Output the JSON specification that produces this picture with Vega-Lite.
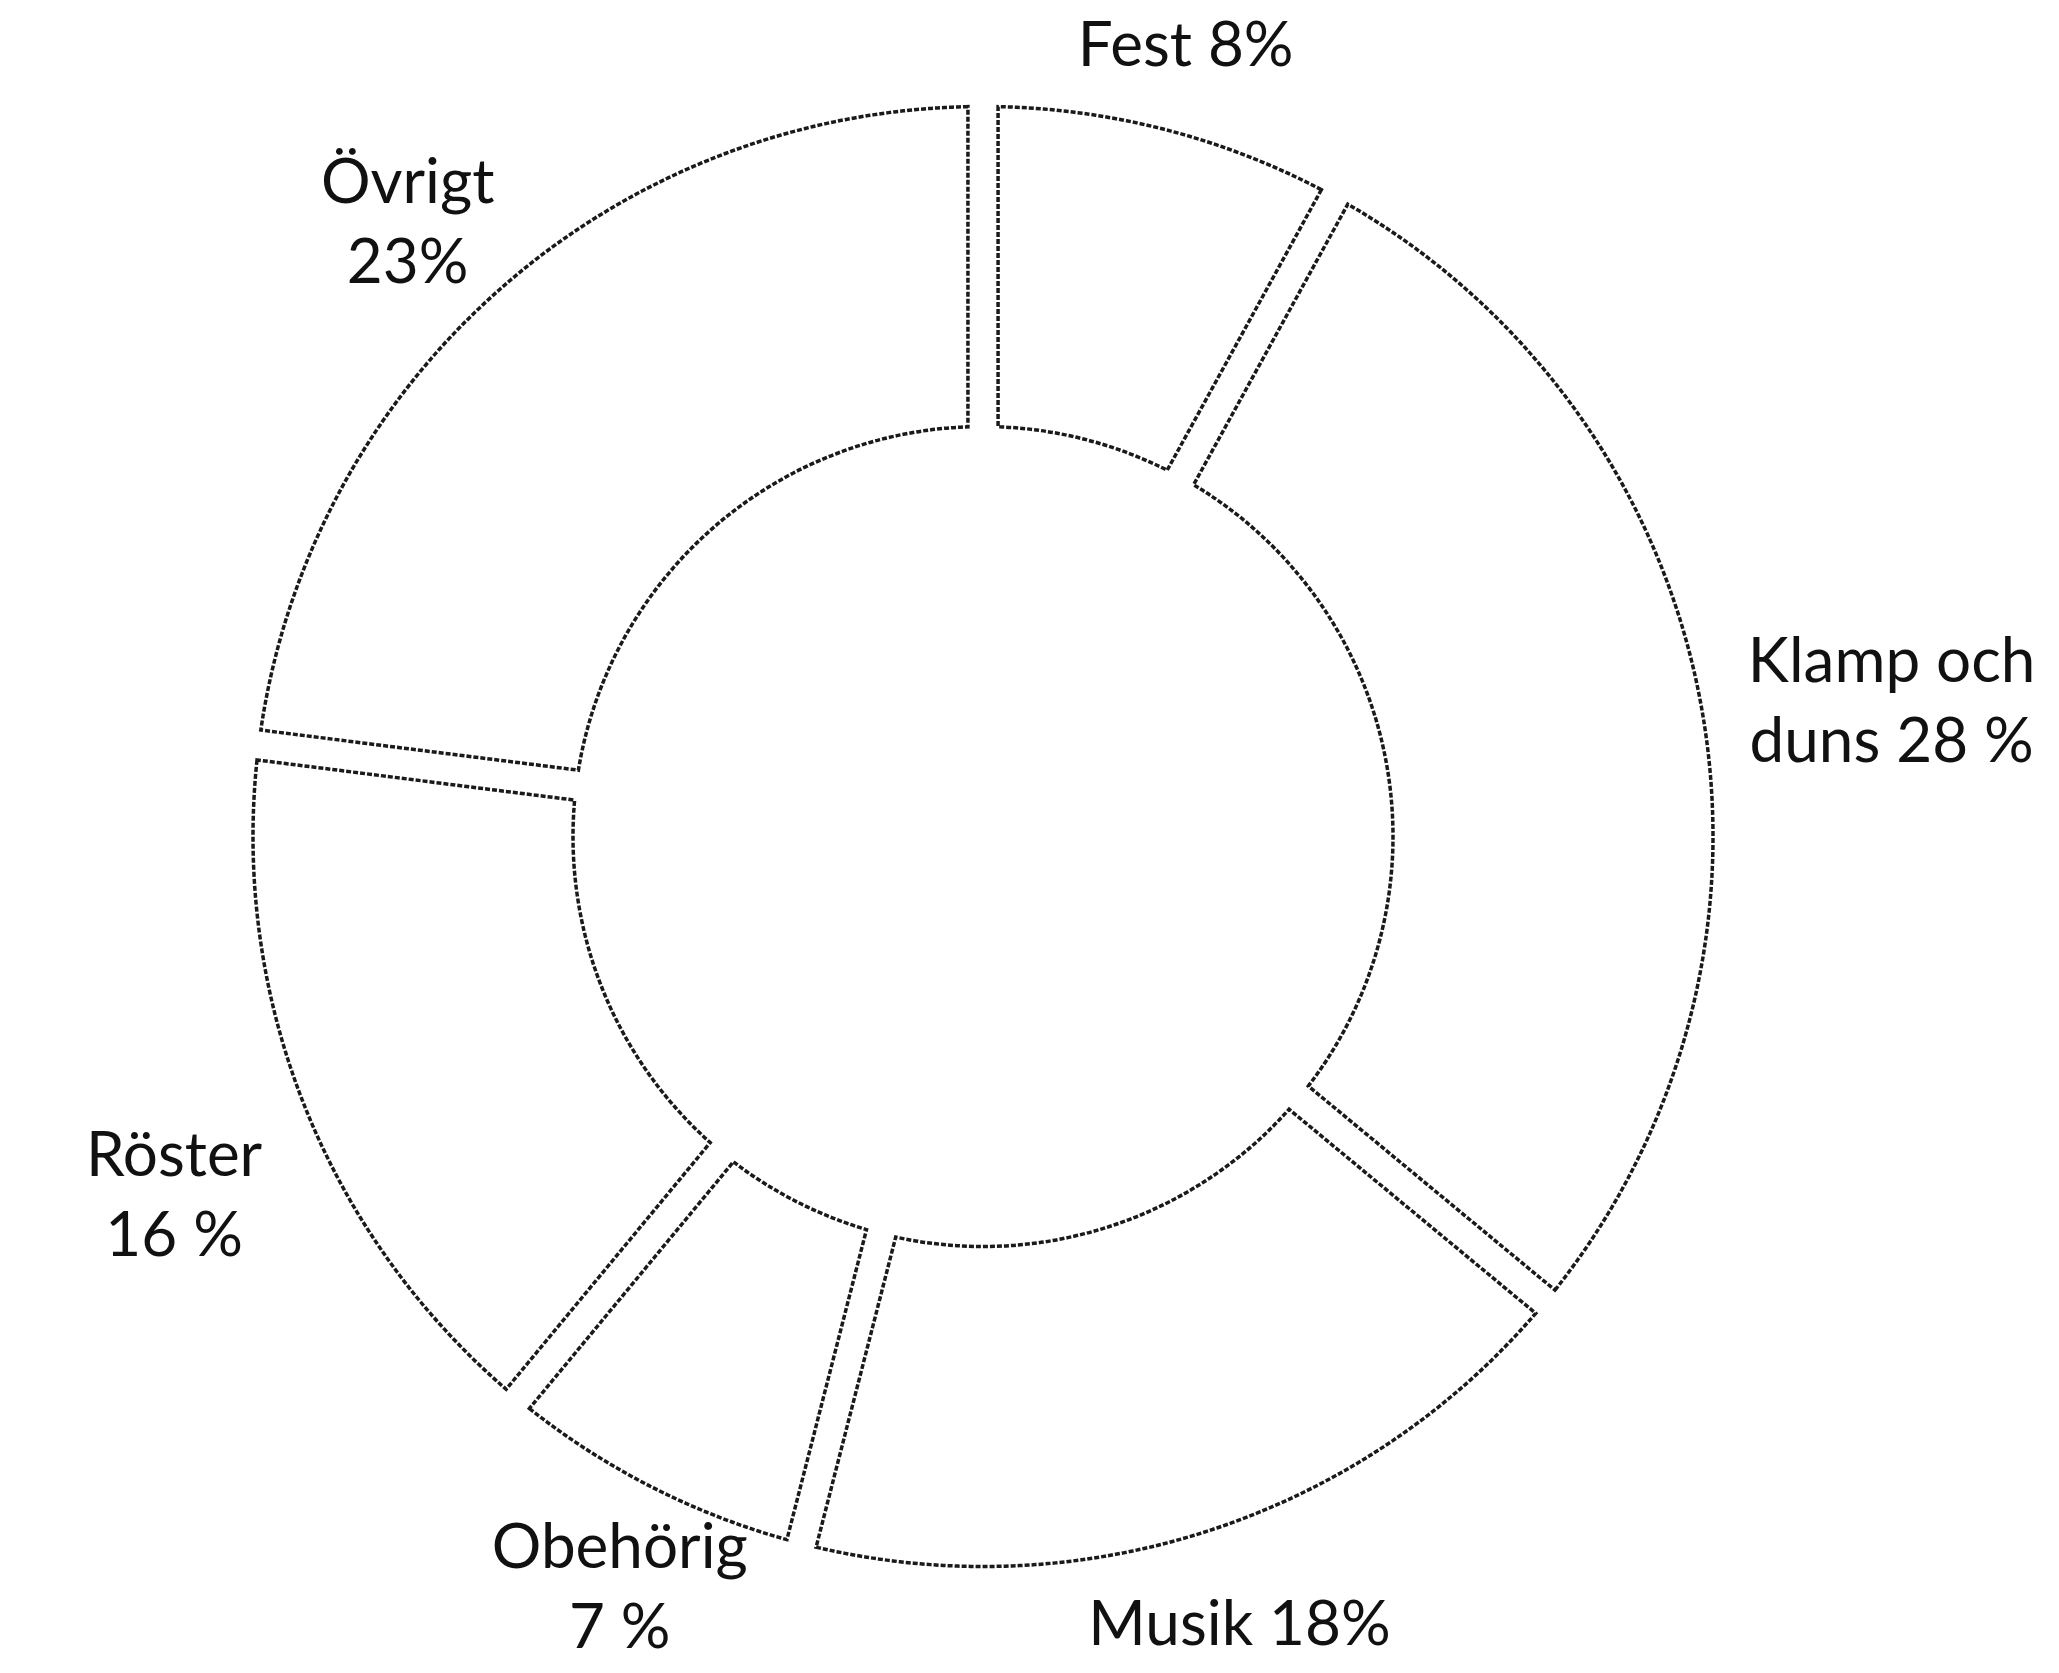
{
  "$schema": "https://vega.github.io/schema/vega-lite/v6.json",
  "width": 1966,
  "height": 1673,
  "autosize": {"type": "none"},
  "padding": {"left": 0, "top": 0, "right": 93, "bottom": 0},
  "background": "white",
  "config": {"view": {"stroke": null}},
  "data": {
    "values": [
      {"i": 1, "category": "Fest", "value": 8, "label": "Fest 8%"},
      {"i": 2, "category": "Klamp och duns", "value": 28, "label": "Klamp och\nduns 28 %"},
      {"i": 3, "category": "Musik", "value": 18, "label": "Musik 18%"},
      {"i": 4, "category": "Obehörig", "value": 7, "label": "Obehörig\n7 %"},
      {"i": 5, "category": "Röster", "value": 16, "label": "Röster\n16 %"},
      {"i": 6, "category": "Övrigt", "value": 23, "label": "Övrigt\n23%"}
    ]
  },
  "encoding": {
    "theta": {"field": "value", "type": "quantitative", "stack": true},
    "order": {"field": "i", "type": "quantitative"}
  },
  "layer": [
    {
      "mark": {
        "type": "arc",
        "outerRadius": 730,
        "innerRadius": 410,
        "padAngle": 0.036,
        "fill": "white",
        "stroke": "#1a1a1a",
        "strokeWidth": 3.5,
        "strokeDash": [5, 2]
      }
    },
    {
      "mark": {"type": "text", "radius": 815, "font": "Lato", "fontSize": 62, "lineHeight": 80, "lineBreak": "\n", "align": "center", "baseline": "middle", "color": "#111111"},
      "encoding": {"text": {"condition": {"test": "datum.category === 'Fest'", "field": "label", "type": "nominal"}, "value": ""}}
    },
    {
      "mark": {"type": "text", "radius": 925, "font": "Lato", "fontSize": 62, "lineHeight": 80, "lineBreak": "\n", "align": "center", "baseline": "middle", "color": "#111111"},
      "encoding": {"text": {"condition": {"test": "datum.category === 'Klamp och duns'", "field": "label", "type": "nominal"}, "value": ""}}
    },
    {
      "mark": {"type": "text", "radius": 830, "font": "Lato", "fontSize": 62, "lineHeight": 80, "lineBreak": "\n", "align": "center", "baseline": "middle", "color": "#111111"},
      "encoding": {"text": {"condition": {"test": "datum.category === 'Musik'", "field": "label", "type": "nominal"}, "value": ""}}
    },
    {
      "mark": {"type": "text", "radius": 800, "font": "Lato", "fontSize": 62, "lineHeight": 80, "lineBreak": "\n", "align": "center", "baseline": "middle", "color": "#111111"},
      "encoding": {"text": {"condition": {"test": "datum.category === 'Obehörig'", "field": "label", "type": "nominal"}, "value": ""}}
    },
    {
      "mark": {"type": "text", "radius": 870, "font": "Lato", "fontSize": 62, "lineHeight": 80, "lineBreak": "\n", "align": "center", "baseline": "middle", "color": "#111111"},
      "encoding": {"text": {"condition": {"test": "datum.category === 'Röster'", "field": "label", "type": "nominal"}, "value": ""}}
    },
    {
      "mark": {"type": "text", "radius": 870, "font": "Lato", "fontSize": 62, "lineHeight": 80, "lineBreak": "\n", "align": "center", "baseline": "middle", "color": "#111111"},
      "encoding": {"text": {"condition": {"test": "datum.category === 'Övrigt'", "field": "label", "type": "nominal"}, "value": ""}}
    }
  ]
}
